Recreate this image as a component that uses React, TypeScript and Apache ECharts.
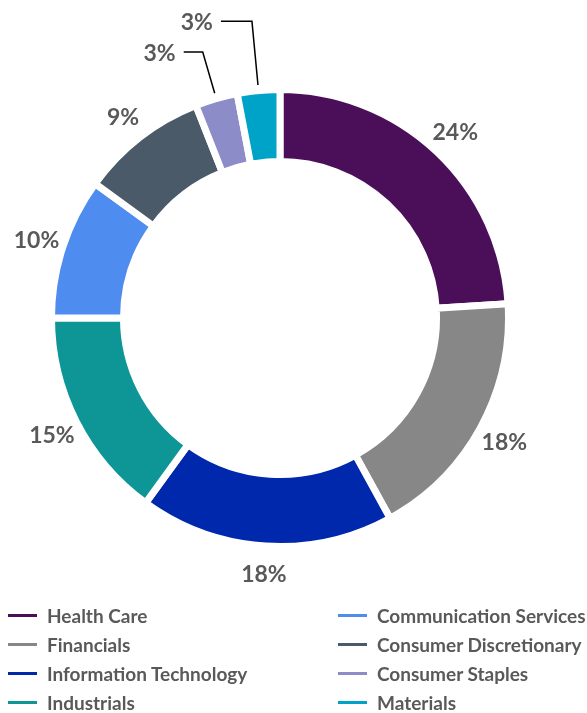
import React, { useEffect, useRef } from "react";
import * as echarts from "echarts";

const categories = [
  "Health Care",
  "Financials",
  "Information Technology",
  "Industrials",
  "Communication Services",
  "Consumer Discretionary",
  "Consumer Staples",
  "Materials",
];
const values = [24, 18, 18, 15, 10, 9, 3, 3];
const colors = ["#4B0F5A", "#878787", "#0028AC", "#0E9696", "#4F8CF0", "#4A5A68", "#8C8CC8", "#00A3C8"];
const leftLegend = categories.slice(0, 4);
const rightLegend = categories.slice(4);

const CX = 280;
const CY = 318;
const R0 = 160;
const R = 225;
const GAP = 7;
const LABEL_R = 256;
const LEADERS: Record<number, { elbowR: number; arm: number }> = {
  6: { elbowR: 277, arm: 19 },
  7: { elbowR: 298, arm: 31 },
};
const TEXT = "#595959";
const FONT = "Lato, 'Open Sans', sans-serif";

const total = values.reduce((a, b) => a + b, 0);
function midAngle(i: number) {
  let before = 0;
  for (let j = 0; j < i; j++) before += values[j];
  return Math.PI / 2 - ((before + values[i] / 2) / total) * 2 * Math.PI;
}

export default function App() {
  const ref = useRef<HTMLDivElement>(null);
  useEffect(() => {
    if (!ref.current) return;
    const chart = echarts.init(ref.current, undefined, { renderer: "svg" });
    const legendBase = {
      orient: "vertical",
      top: 606,
      height: 130,
      padding: 0,
      itemWidth: 31,
      itemHeight: 5,
      itemGap: 10,
      icon: "rect",
      selectedMode: false,
      textStyle: {
        color: TEXT,
        fontSize: 19,
        fontWeight: "bold",
        fontFamily: FONT,
        lineHeight: 19,
        padding: [0, 0, 0, 4],
      },
    };
    chart.setOption({
      animation: false,
      color: colors,
      legend: [
        { ...legendBase, left: 6, data: leftLegend },
        { ...legendBase, left: 336, data: rightLegend },
      ],
      series: [
        {
          type: "pie",
          center: [CX, CY],
          radius: [R0 - GAP / 2, R + GAP / 2],
          startAngle: 90,
          clockwise: true,
          avoidLabelOverlap: false,
          itemStyle: { borderColor: "#ffffff", borderWidth: GAP },
          emphasis: { disabled: true },
          label: {
            show: true,
            position: "outside",
            formatter: "{c}%",
            color: TEXT,
            fontSize: 23,
            fontWeight: "bold",
            fontFamily: FONT,
          },
          labelLine: { show: false, lineStyle: { color: "#000000", width: 1.5 } },
          labelLayout: (p: any) => {
            const a = midAngle(p.dataIndex);
            const c = Math.cos(a);
            const s = Math.sin(a);
            const ld = LEADERS[p.dataIndex];
            if (!ld) {
              return { x: CX + LABEL_R * c, y: CY - LABEL_R * s, align: "center", verticalAlign: "middle" };
            }
            const start = [CX + (R + 9) * c, CY - (R + 9) * s];
            const elbow = [CX + ld.elbowR * c, CY - ld.elbowR * s];
            const end = [elbow[0] - ld.arm, elbow[1]];
            return {
              x: end[0] - 8,
              y: end[1],
              align: "right",
              verticalAlign: "middle",
              labelLinePoints: [start, elbow, end],
            };
          },
          data: categories.map((name, i) => ({
            name,
            value: values[i],
            labelLine: { show: !!LEADERS[i] },
          })),
        },
      ],
    });
    return () => chart.dispose();
  }, []);
  return <div ref={ref} style={{ position: "fixed", left: 0, top: 0, width: 587, height: 713 }} />;
}
